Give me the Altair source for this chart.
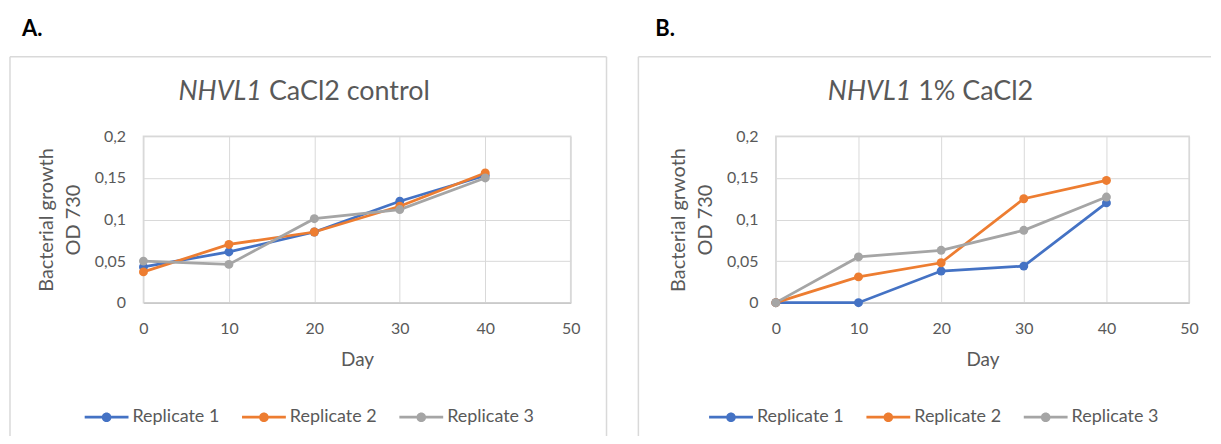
import altair as alt
import pandas as pd

# ---------------- data ----------------
days = [0, 10, 20, 30, 40]
series_names = ["Replicate 1", "Replicate 2", "Replicate 3"]
series_colors = ["#4472C4", "#ED7D31", "#A5A5A5"]

a_rep1 = [0.043, 0.061, 0.085, 0.122, 0.153]
a_rep2 = [0.037, 0.070, 0.085, 0.116, 0.156]
a_rep3 = [0.050, 0.046, 0.101, 0.112, 0.150]

b_rep1 = [0.0, 0.0, 0.038, 0.044, 0.120]
b_rep2 = [0.0, 0.031, 0.048, 0.125, 0.147]
b_rep3 = [0.0, 0.055, 0.063, 0.087, 0.127]

x_ticks = [0, 10, 20, 30, 40, 50]
y_ticks = [0, 0.05, 0.1, 0.15, 0.2]

# ---------------- style ----------------
FONT = "Lato"
TXT = "#595959"
GRID = "#D9D9D9"
LEG_PATH = ("M-1,-0.065H1V0.065H-1Z "
            "M0.22,0A0.22,0.22 0 1,1 -0.22,0A0.22,0.22 0 1,1 0.22,0Z")


def long_df(reps):
    rows = []
    for name, vals in zip(series_names, reps):
        for d, v in zip(days, vals):
            rows.append({"Day": d, "OD": v, "Replicate": name, "Series": name})
    return pd.DataFrame(rows)


def one_row(v):
    return pd.DataFrame({"t": [v]})


def panel(df, letter, title_it, title_rest, ytitle, W, H, g):
    xenc = alt.X("Day:Q", scale=alt.Scale(domain=[0, 50], nice=False),
                 axis=alt.Axis(values=x_ticks, title="Day", grid=True,
                               gridColor=GRID, ticks=False, domainColor="#BFBFBF",
                               labelFlush=False,
                               labelFont=FONT, labelFontSize=16, labelColor=TXT,
                               labelPadding=18, titleFont=FONT, titleFontSize=19,
                               titleColor=TXT, titleFontWeight="normal",
                               titlePadding=14))
    yenc = alt.Y("OD:Q", scale=alt.Scale(domain=[0, 0.2], nice=False),
                 axis=alt.Axis(values=y_ticks, title=ytitle, grid=True,
                               gridColor=GRID, ticks=False, domain=False,
                               labelFlush=False,
                               labelExpr="replace(format(datum.value, '~g'), '.', ',')",
                               labelFont=FONT, labelFontSize=16, labelColor=TXT,
                               labelPadding=18, titleFont=FONT, titleFontSize=20,
                               titleColor=TXT, titleFontWeight="normal",
                               titleLineHeight=27, titlePadding=11))

    # lines: stroke channel on a separate field so its (hidden) legend is not merged
    lines = alt.Chart(df).mark_line(strokeWidth=2.75).encode(
        x=xenc, y=yenc,
        stroke=alt.Stroke("Series:N", scale=alt.Scale(range=series_colors),
                          legend=None),
    )
    points = alt.Chart(df).mark_point(filled=True, size=80, opacity=1).encode(
        x=xenc, y=yenc,
        color=alt.Color("Replicate:N",
                        scale=alt.Scale(domain=series_names, range=series_colors),
                        legend=alt.Legend(orient="none", legendX=g["legx"],
                                          legendY=g["legy"], direction="horizontal",
                                          title=None, symbolType=LEG_PATH,
                                          symbolSize=1936, symbolStrokeWidth=0,
                                          symbolOpacity=1,
                                          labelFont=FONT, labelFontSize=18,
                                          labelColor=TXT, labelOffset=4,
                                          columnPadding=22, padding=0)),
    )

    anchor = alt.Chart(one_row(0)).mark_rect(opacity=0).encode(
        x=alt.value(g["ax0"]), x2=alt.value(g["ax1"]),
        y=alt.value(-127), y2=alt.value(301))

    border_layers = []
    border_layers.append(alt.Chart(one_row(0)).mark_rule(color=GRID, strokeWidth=1.5).encode(
        x=alt.value(g["bx0"]), x2=alt.value(g["bx1"]), y=alt.value(-80)))
    border_layers.append(alt.Chart(one_row(0)).mark_rule(color=GRID, strokeWidth=1.5).encode(
        x=alt.value(g["bx0"]), y=alt.value(-80), y2=alt.value(301)))
    if g.get("right", False):
        border_layers.append(alt.Chart(one_row(0)).mark_rule(color=GRID, strokeWidth=1.5).encode(
            x=alt.value(g["bx1"]), y=alt.value(-80), y2=alt.value(301)))

    letter_t = alt.Chart(one_row(letter)).mark_text(
        align="left", baseline="middle", font=FONT, fontSize=22,
        fontWeight="bold", color="black").encode(
        text="t:N", x=alt.value(g["lx"]), y=alt.value(-108))
    t_it = alt.Chart(one_row(title_it)).mark_text(
        align="right", baseline="middle", font=FONT, fontSize=27,
        fontStyle="italic", color=TXT).encode(
        text="t:N", x=alt.value(g["tsplit"]), y=alt.value(-45))
    t_rest = alt.Chart(one_row(title_rest)).mark_text(
        align="left", baseline="middle", font=FONT, fontSize=27,
        color=TXT).encode(
        text="t:N", x=alt.value(g["tsplit"] + 7), y=alt.value(-45))

    return alt.layer(anchor, *border_layers, lines, points, letter_t, t_it, t_rest).properties(
        width=W, height=H)


df_a = long_df([a_rep1, a_rep2, a_rep3])
df_b = long_df([b_rep1, b_rep2, b_rep3])

geo_a = dict(ax0=-135, ax1=469, bx0=-134, bx1=465, right=True, lx=-122,
             tsplit=119, legx=-59, legy=260)
geo_b = dict(ax0=-164, ax1=437, bx0=-138, bx1=437, right=False, lx=-121,
             tsplit=136, legx=-67, legy=260)

pa = panel(df_a, "A.", "NHVL1", "CaCl2 control",
           ["Bacterial growth", "OD 730"], 429, 167, geo_a)
pb = panel(df_b, "B.", "NHVL1", "1% CaCl2",
           ["Bacterial grwoth", "OD 730"], 415, 167, geo_b)

chart = alt.hconcat(pa, pb, spacing=0).resolve_scale(
    color="independent", stroke="independent").resolve_legend(
    color="independent", stroke="independent").properties(
    padding=0, background="white").configure_view(stroke=GRID, strokeWidth=1.5)

chart.save("out.html", embed_options={"renderer": "svg", "actions": False})
